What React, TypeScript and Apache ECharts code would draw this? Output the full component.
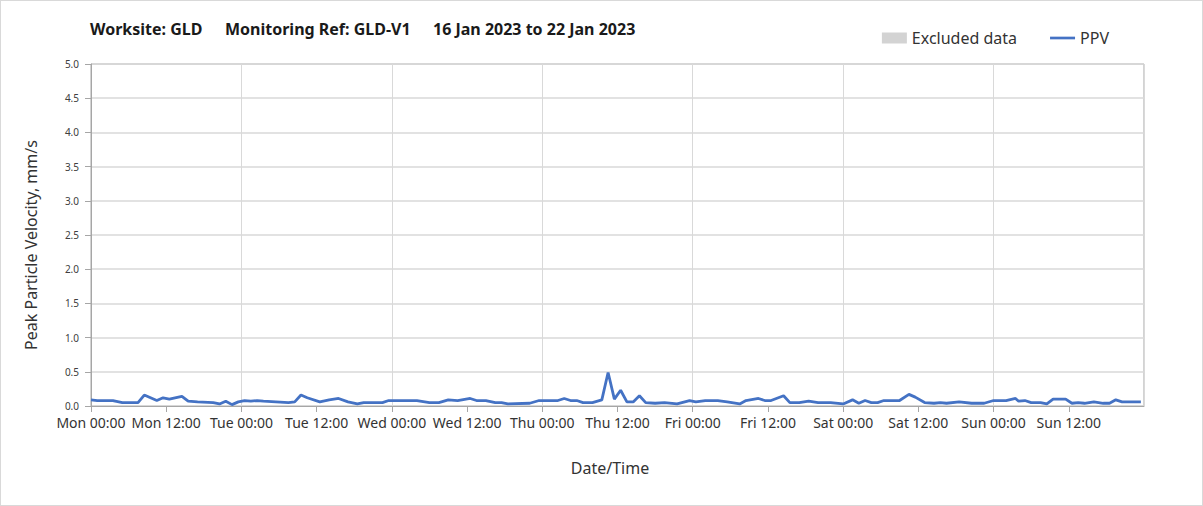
import React, { useEffect, useRef } from "react";
import * as echarts from "echarts";

const hours: number[] = [
  0, 1, 3.5, 5, 7.5, 8.5, 10.5, 11.5, 12.5, 14.5, 15.5, 17, 19.5, 20.5, 21.5, 22.5, 23.5,
  24.5, 25.5, 26.5, 27.5, 29.5, 31.5, 32.5, 33.5, 34.5, 36.5, 38, 39.5, 41, 42.5, 43.5, 46.5, 47.5,
  52, 54, 55.5, 57, 58.5, 60.5, 61.5, 63, 64.5, 65.5, 66.5, 70, 71.5,
  74.5, 75.5, 76.5, 77.5, 78.5, 80, 81.5, 82.5, 83.5, 84.5, 85.5, 86.5, 87.5, 88.5, 90, 91.5, 93.5, 95.5,
  96.5, 98, 100, 101.5, 103.5, 104.5, 106.5, 107.5, 108.5, 110.5, 111.5, 113, 114.5, 116, 118,
  120, 121.5, 122.5, 123.5, 124.5, 125.5, 126.5, 129, 130.5, 131.5, 133, 134.5, 135.5, 136.5, 138.5, 140.5, 142.5,
  144, 146, 147.5, 148, 149, 150, 151.5, 152.5, 153.5, 155.5, 156.5, 157.5, 158.5, 160, 161.5, 162.5, 163.5, 164.5, 167.5,
];

const ppv: number[] = [
  0.09, 0.08, 0.08, 0.05, 0.05, 0.16, 0.08, 0.12, 0.10, 0.14, 0.07, 0.06, 0.05, 0.03, 0.07, 0.02, 0.06,
  0.08, 0.07, 0.08, 0.07, 0.06, 0.05, 0.06, 0.16, 0.12, 0.06, 0.09, 0.11, 0.06, 0.03, 0.05, 0.05, 0.08,
  0.08, 0.05, 0.05, 0.09, 0.08, 0.11, 0.08, 0.08, 0.05, 0.05, 0.03, 0.04, 0.08,
  0.08, 0.11, 0.08, 0.08, 0.05, 0.05, 0.09, 0.49, 0.10, 0.23, 0.06, 0.06, 0.15, 0.05, 0.04, 0.05, 0.03, 0.08,
  0.06, 0.08, 0.08, 0.06, 0.03, 0.08, 0.11, 0.08, 0.08, 0.15, 0.05, 0.05, 0.07, 0.05, 0.05,
  0.03, 0.09, 0.04, 0.08, 0.05, 0.05, 0.08, 0.08, 0.17, 0.13, 0.05, 0.04, 0.05, 0.04, 0.06, 0.04, 0.04,
  0.08, 0.08, 0.11, 0.07, 0.08, 0.05, 0.05, 0.03, 0.10, 0.10, 0.04, 0.05, 0.04, 0.06, 0.04, 0.04, 0.09, 0.06, 0.06,
];

const tickLabels: string[] = [
  "Mon 00:00", "Mon 12:00", "Tue 00:00", "Tue 12:00", "Wed 00:00", "Wed 12:00", "Thu 00:00",
  "Thu 12:00", "Fri 00:00", "Fri 12:00", "Sat 00:00", "Sat 12:00", "Sun 00:00", "Sun 12:00",
];

const titleParts: string[] = ["Worksite: GLD", "Monitoring Ref: GLD-V1", "16 Jan 2023 to 22 Jan 2023"];
const yAxisTitle = "Peak Particle Velocity, mm/s";
const xAxisTitle = "Date/Time";

const FONT = "'Noto Sans', sans-serif";

export default function App() {
  const ref = useRef<HTMLDivElement>(null);
  useEffect(() => {
    if (!ref.current) return;
    const chart = echarts.init(ref.current, undefined, { renderer: "svg" });
    const data = hours.map((h, i) => [h, ppv[i]]);
    chart.setOption({
      animation: false,
      backgroundColor: "#ffffff",
      textStyle: { fontFamily: FONT },
      graphic: [
        { type: "text", left: 89, top: 20, style: { text: titleParts[0], font: `bold 16px ${FONT}`, fill: "#1a1a1a" } },
        { type: "text", left: 224, top: 20, style: { text: titleParts[1], font: `bold 16px ${FONT}`, fill: "#1a1a1a" } },
        { type: "text", left: 432, top: 20, style: { text: titleParts[2], font: `bold 16px ${FONT}`, fill: "#1a1a1a" } },
        {
          type: "text",
          x: 30,
          y: 244,
          rotation: Math.PI / 2,
          style: { text: yAxisTitle, font: `16px ${FONT}`, fill: "#333333", align: "center", verticalAlign: "middle" },
        },
        {
          type: "text",
          x: 609,
          y: 467,
          style: { text: xAxisTitle, font: `16px ${FONT}`, fill: "#333333", align: "center", verticalAlign: "middle" },
        },
      ],
      legend: {
        top: 24,
        right: 88,
        itemWidth: 25,
        itemHeight: 11,
        itemGap: 33,
        textStyle: { fontSize: 16, color: "#333333", fontFamily: FONT },
        data: [
          { name: "Excluded data", icon: "rect" },
          { name: "PPV", icon: "path://M0,0 L28,0 L28,3 L0,3 Z" },
        ],
      },
      grid: {
        left: 90,
        right: 58,
        top: 63,
        bottom: 99,
        show: true,
        borderColor: "#a6a6a6",
        borderWidth: 1,
        backgroundColor: "transparent",
      },
      xAxis: [
        {
          type: "value",
          min: 0,
          max: 168,
          interval: 12,
          axisLine: { show: true, lineStyle: { color: "#a6a6a6" } },
          axisTick: { show: true, length: 6, lineStyle: { color: "#a6a6a6" } },
          axisLabel: {
            fontSize: 14,
            color: "#333333",
            margin: 9,
            showMaxLabel: false,
            formatter: (v: number) => tickLabels[Math.round(v / 12)] ?? "",
          },
          splitLine: { show: false },
        },
        {
          type: "value",
          min: 0,
          max: 168,
          interval: 24,
          position: "bottom",
          axisLine: { show: false },
          axisTick: { show: false },
          axisLabel: { show: false },
          splitLine: { show: true, lineStyle: { color: "#d9d9d9", width: 1 } },
        },
      ],
      yAxis: {
        type: "value",
        min: 0,
        max: 5,
        interval: 0.5,
        axisLine: { show: true, lineStyle: { color: "#a6a6a6" } },
        axisTick: { show: true, length: 6, lineStyle: { color: "#a6a6a6" } },
        axisLabel: {
          fontSize: 10,
          color: "#404040",
          margin: 12,
          formatter: (v: number) => v.toFixed(1),
        },
        splitLine: { show: true, lineStyle: { color: "#d9d9d9", width: 1.5 } },
      },
      series: [
        {
          name: "Excluded data",
          type: "bar",
          data: [],
          itemStyle: { color: "#d3d3d3" },
        },
        {
          name: "PPV",
          type: "line",
          xAxisIndex: 0,
          data,
          showSymbol: false,
          symbol: "none",
          lineStyle: { color: "#4472c4", width: 2.8 },
          itemStyle: { color: "#4472c4" },
        },
      ],
    });
    return () => chart.dispose();
  }, []);
  return (
    <div
      style={{
        position: "fixed",
        left: 0,
        top: 0,
        width: 1203,
        height: 506,
        boxSizing: "border-box",
        border: "1px solid #d9d9d9",
        background: "#fff",
      }}
    >
      <div ref={ref} style={{ width: 1201, height: 504 }} />
    </div>
  );
}
